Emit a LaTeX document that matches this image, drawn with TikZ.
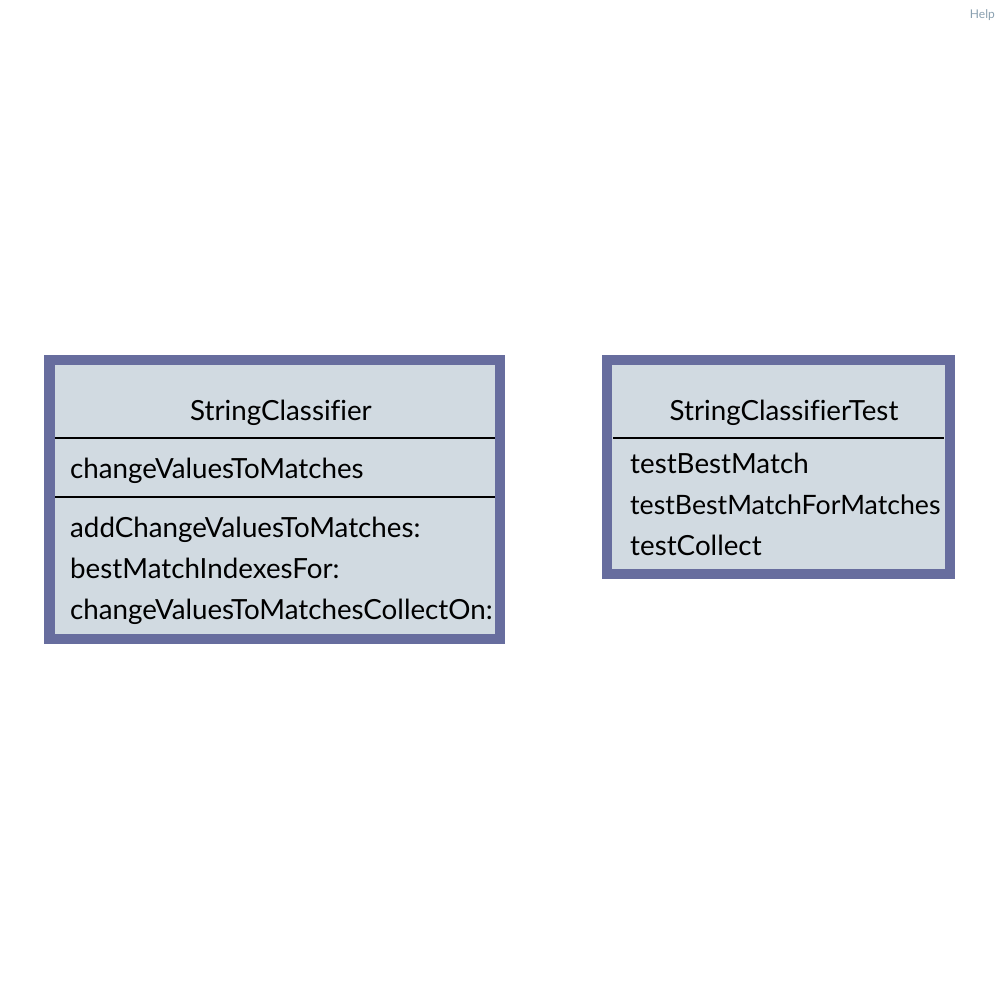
\documentclass[tikz,border=0pt]{standalone}
\usepackage{fontspec}
\setmainfont[Ligatures=NoCommon]{Lato}
\definecolor{boxfill}{HTML}{D1DAE1}
\definecolor{boxline}{HTML}{676D9E}
\definecolor{helpcol}{HTML}{8AA0B0}
\begin{document}
\begin{tikzpicture}[x=1pt,y=-1pt,
  classbox/.style={draw=boxline,fill=boxfill,line width=10.5pt,rectangle,inner sep=0pt,outer sep=0pt},
  divider/.style={line width=2pt,black},
  lbl/.style={anchor=base west,inner sep=0pt,font=\fontsize{27.75}{32}\selectfont},
  title/.style={anchor=base,inner sep=0pt,font=\fontsize{27.75}{32}\selectfont}]
\useasboundingbox (0,0) rectangle (1000,1001);
\fill[white] (0,0) rectangle (1000,1001);
\node[anchor=base east,inner sep=0pt,text=helpcol,font=\fontsize{12}{14}\selectfont] (help) at (995,18) {Help};
% left class
\node[classbox,minimum width=450.5pt,minimum height=279pt] (c1) at (274.75,499.5) {};
\coordinate (c1a) at (55,438); \coordinate (c1b) at (495,438);
\coordinate (c1c) at (55,497); \coordinate (c1d) at (495,497);
\draw[divider] (c1a) -- (c1b);
\draw[divider] (c1c) -- (c1d);
\node[title] (c1t) at (281,420) {StringClassifier};
\node[lbl] (c1v) at (70,478) {changeValuesToMatches};
\node[lbl] (c1m1) at (70,537) {addChangeValuesToMatches:};
\node[lbl] (c1m2) at (70,578) {bestMatchIndexesFor:};
\node[lbl] (c1m3) at (70,619) {changeValuesToMatchesCollectOn:};
% right class
\node[classbox,minimum width=343pt,minimum height=214pt] (c2) at (778.5,467) {};
\coordinate (c2a) at (613,438); \coordinate (c2b) at (944,438);
\draw[divider] (c2a) -- (c2b);
\node[title] (c2t) at (784,420) {StringClassifierTest};
\node[lbl] (c2m1) at (630,473) {testBestMatch};
\node[lbl,font=\fontsize{26.7}{32}\selectfont] (c2m2) at (630,514) {testBestMatchForMatches};
\node[lbl] (c2m3) at (630,555) {testCollect};
\end{tikzpicture}
\end{document}
